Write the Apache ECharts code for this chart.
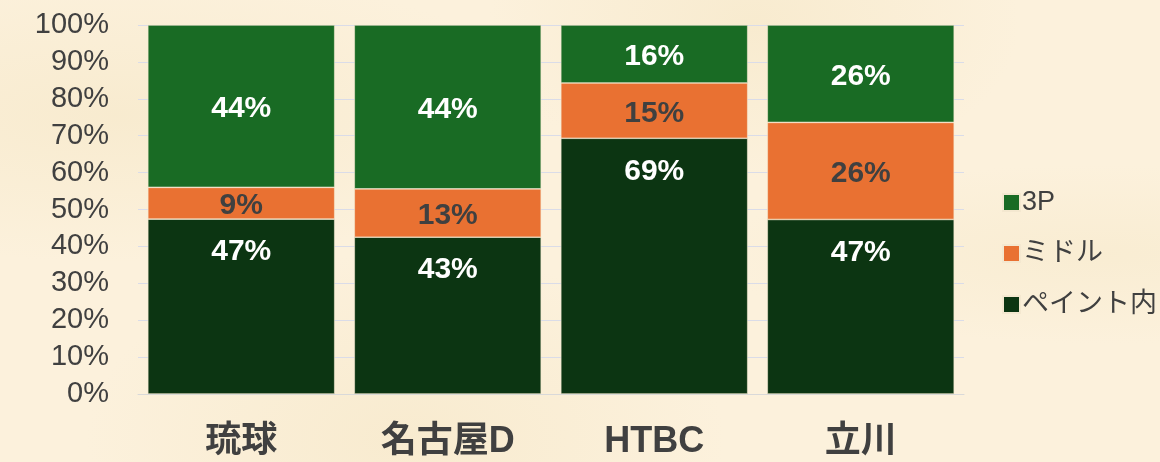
<!DOCTYPE html>
<html>
<head>
<meta charset="utf-8">
<script src="https://cdn.jsdelivr.net/npm/echarts@6/dist/echarts.min.js"></script>
<style>
  html, body { margin: 0; padding: 0; }
  body {
    width: 1160px; height: 462px; overflow: hidden;
    background-color: #fcf1dc;
    background-image:
      radial-gradient(ellipse at 10% 25%, rgba(243, 228, 192, 0.45), rgba(243, 228, 192, 0) 30%),
      radial-gradient(ellipse at 65% 5%, rgba(242, 226, 188, 0.4), rgba(242, 226, 188, 0) 25%),
      radial-gradient(ellipse at 35% 95%, rgba(242, 226, 188, 0.4), rgba(242, 226, 188, 0) 30%),
      radial-gradient(ellipse at 95% 55%, rgba(244, 230, 196, 0.4), rgba(244, 230, 196, 0) 25%);
  }
  #chart { width: 1160px; height: 462px; }
</style>
</head>
<body>
<div id="chart"></div>
<script>
const teams = ['琉球', '名古屋D', 'HTBC', '立川']
const paint = [47.4, 42.5, 69.3, 47.3]
const middle = [8.6, 13.1, 15.0, 26.3]
const threeP = [44.0, 44.4, 15.7, 26.4]
const yTicks = [0, 10, 20, 30, 40, 50, 60, 70, 80, 90, 100]

const latin = '"Liberation Sans", Arial, "Noto Sans CJK JP", sans-serif'
const pct = p => Math.round(p.value) + '%'

const chart = echarts.init(document.getElementById('chart'))

chart.setOption({
    backgroundColor: 'transparent',
    textStyle: { fontFamily: latin },
    grid: { left: 138, right: 196, top: 25, bottom: 68 },
    legend: {
        orient: 'vertical',
        left: 997,
        top: 184,
        itemWidth: 17,
        itemHeight: 17,
        itemGap: 24,
        icon: 'rect',
        data: ['3P', 'ミドル', 'ペイント内'],
        textStyle: { fontSize: 27, color: '#404040', fontFamily: latin, padding: [0, 0, 0, -3] }
    },
    xAxis: {
        type: 'category',
        data: teams,
        axisLine: { lineStyle: { color: '#d9d9d9' } },
        axisTick: { show: false },
        axisLabel: {
            fontSize: 36,
            fontWeight: 'bold',
            color: '#404040',
            margin: 30,
            fontFamily: latin
        }
    },
    yAxis: {
        type: 'value',
        min: yTicks[0],
        max: yTicks[yTicks.length - 1],
        interval: 10,
        axisLine: { show: false },
        axisTick: { show: false },
        splitLine: { lineStyle: { color: '#dadce8' } },
        axisLabel: {
            formatter: '{value}%',
            fontSize: 29,
            color: '#404040',
            margin: 29,
            fontFamily: latin
        }
    },
    series: [
        {
            name: 'ペイント内',
            type: 'bar',
            stack: 'all',
            barCategoryGap: '9.5%',
            data: paint,
            itemStyle: { color: '#0c3512', borderColor: '#f4e8d0', borderWidth: 0.6 },
            label: {
                show: true,
                position: 'insideTop',
                distance: 18,
                formatter: pct,
                color: '#ffffff',
                fontSize: 30,
                fontWeight: 'bold'
            }
        },
        {
            name: 'ミドル',
            type: 'bar',
            stack: 'all',
            data: middle,
            itemStyle: { color: '#e97132', borderColor: '#f4e8d0', borderWidth: 0.6 },
            label: {
                show: true,
                position: 'inside',
                offset: [0, 3],
                formatter: pct,
                color: '#404040',
                fontSize: 30,
                fontWeight: 'bold'
            }
        },
        {
            name: '3P',
            type: 'bar',
            stack: 'all',
            data: threeP,
            itemStyle: { color: '#196b24', borderColor: '#f4e8d0', borderWidth: 0.6 },
            label: {
                show: true,
                position: 'inside',
                offset: [0, 3],
                formatter: pct,
                color: '#ffffff',
                fontSize: 30,
                fontWeight: 'bold'
            }
        }
    ]
})
</script>
</body>
</html>
